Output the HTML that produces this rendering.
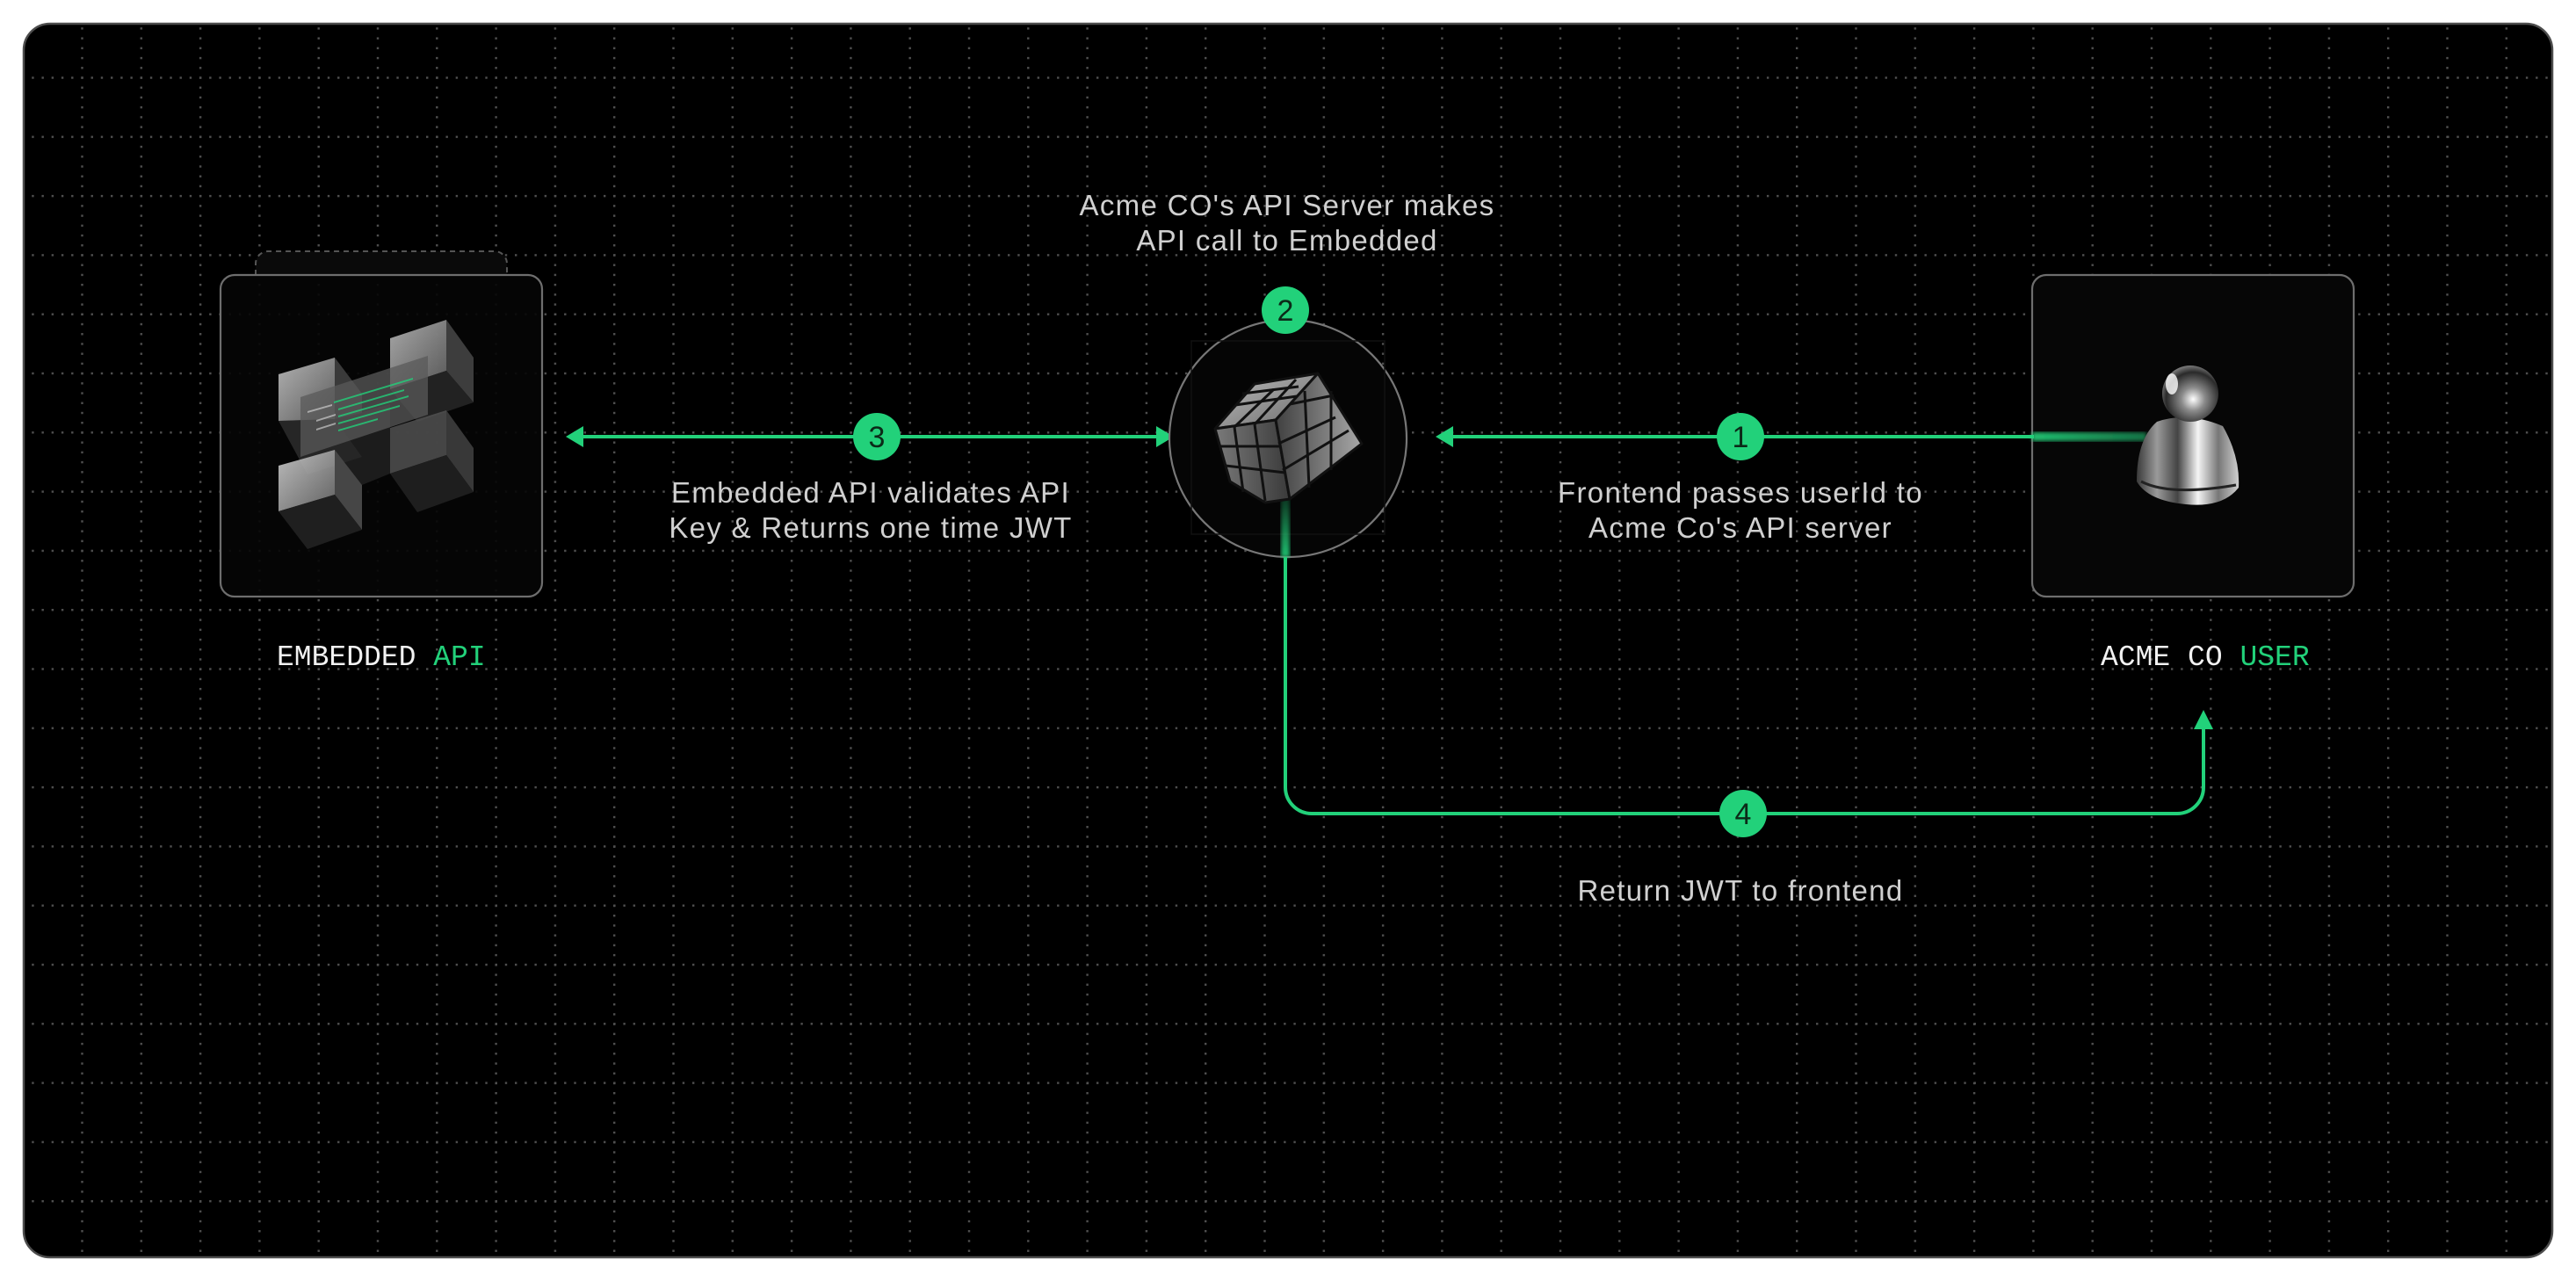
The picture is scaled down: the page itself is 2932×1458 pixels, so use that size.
<!DOCTYPE html>
<html><head><meta charset="utf-8"><style>
html,body{margin:0;padding:0;background:#fff;}
body{width:2932px;height:1458px;overflow:hidden;}
svg{display:block}
.t{font-family:"Liberation Sans",sans-serif;font-size:33px;letter-spacing:1.3px;fill:#d0d0d0;text-anchor:middle}
.m{font-family:"Liberation Mono",monospace;font-size:33px;fill:#f2f2f2}
.g{fill:#22d17a}
.n{font-family:"Liberation Sans",sans-serif;font-size:34px;fill:#0b2a18;text-anchor:middle}
</style></head><body>
<svg width="2932" height="1458" viewBox="0 0 2932 1458" xmlns="http://www.w3.org/2000/svg">
<defs>
<clipPath id="card"><rect x="27" y="27" width="2878" height="1404" rx="30"/></clipPath>
<pattern id="hl" x="25" y="20" width="11.22" height="67.3" patternUnits="userSpaceOnUse"><rect x="0" y="0" width="2.4" height="2.4" fill="#505050"/></pattern>
<pattern id="vl" x="25" y="20" width="67.3" height="11.22" patternUnits="userSpaceOnUse"><rect x="0" y="0" width="2.4" height="2.4" fill="#505050"/></pattern>
<linearGradient id="gtop" x1="0" y1="0" x2="1" y2="1"><stop offset="0" stop-color="#bdbdbd"/><stop offset="1" stop-color="#6a6a6a"/></linearGradient>
<linearGradient id="gleft" x1="0" y1="0" x2="1" y2="0"><stop offset="0" stop-color="#7a7a7a"/><stop offset="1" stop-color="#3a3a3a"/></linearGradient>
<linearGradient id="gright" x1="0" y1="0" x2="1" y2="0"><stop offset="0" stop-color="#404040"/><stop offset="1" stop-color="#a8a8a8"/></linearGradient>
<linearGradient id="glass" x1="0" y1="0" x2="1" y2="1"><stop offset="0" stop-color="#d0d0d0"/><stop offset="1" stop-color="#6c6c6c"/></linearGradient>
<radialGradient id="head" cx="0.55" cy="0.6" r="0.6"><stop offset="0" stop-color="#ffffff"/><stop offset="0.35" stop-color="#8a8a8a"/><stop offset="0.8" stop-color="#2a2a2a"/><stop offset="1" stop-color="#777"/></radialGradient>
<linearGradient id="body" x1="0" y1="0" x2="1" y2="0"><stop offset="0" stop-color="#3a3a3a"/><stop offset="0.2" stop-color="#9a9a9a"/><stop offset="0.4" stop-color="#444"/><stop offset="0.6" stop-color="#f5f5f5"/><stop offset="0.8" stop-color="#777"/><stop offset="1" stop-color="#cfcfcf"/></linearGradient>
<linearGradient id="vglow" x1="0" y1="0" x2="0" y2="1"><stop offset="0" stop-color="#22d17a" stop-opacity="0.2"/><stop offset="1" stop-color="#22d17a" stop-opacity="0.9"/></linearGradient>
<linearGradient id="hglow" x1="0" y1="0" x2="1" y2="0"><stop offset="0" stop-color="#22d17a" stop-opacity="0.9"/><stop offset="1" stop-color="#1a8f56" stop-opacity="0.8"/></linearGradient>
<filter id="blur"><feGaussianBlur stdDeviation="2"/></filter>
</defs>
<rect x="27" y="27" width="2878" height="1404" rx="30" fill="#000"/>
<g clip-path="url(#card)">
<rect x="27" y="20" width="2878" height="1420" fill="url(#hl)"/>
<rect x="25" y="27" width="2880" height="1404" fill="url(#vl)"/>
</g>
<rect x="27" y="27" width="2878" height="1404" rx="30" fill="none" stroke="#4d4d4d" stroke-width="2.5"/>

<path d="M291 313 V300 a14 14 0 0 1 14 -14 H563 a14 14 0 0 1 14 14 V313" fill="#0a0a0a" stroke="#555" stroke-width="2" stroke-dasharray="6 5"/>
<rect x="251" y="313" width="366" height="366" rx="16" fill="#050505" fill-opacity="0.9" stroke="#6e6e6e" stroke-width="2.2"/>
<g>
<polygon points="381,477 444,460 444,539 412,552 381,512" fill="#1c1c1c"/>
<polygon points="317,479 381,477 412,520 350,540" fill="#262626"/>
<polygon points="317,426 381,407 381,477 317,479" fill="url(#glass)" opacity="0.85"/>
<polygon points="381,407 412,448 412,470 381,477" fill="#3a3a3a"/>
<polygon points="444,385 508,364 508,422 444,443" fill="url(#glass)" opacity="0.8"/>
<polygon points="508,364 539,407 539,458 508,422" fill="#3d3d3d"/>
<polygon points="444,443 508,422 539,458 475,480" fill="#222"/>
<polygon points="444,487 508,467 508,518 444,539" fill="#555" opacity="0.8"/>
<polygon points="508,467 539,510 539,560 508,518" fill="#383838"/>
<polygon points="444,539 508,518 539,560 475,583" fill="#1e1e1e"/>
<polygon points="317,530 381,512 381,563 317,582" fill="url(#glass)" opacity="0.9"/>
<polygon points="381,512 412,552 412,603 381,563" fill="#464646"/>
<polygon points="317,582 381,563 412,603 350,625" fill="#1f1f1f"/>
<polygon points="342,452 487,405 487,472 342,520" fill="#5a5a5a" opacity="0.75"/>
<g fill="#22d17a" opacity="0.8">
<polygon points="380,457 470,430 470,432 380,459"/>
<polygon points="385,465 460,443 460,445 385,467"/>
<polygon points="385,473 465,450 465,452 385,475"/>
<polygon points="385,481 455,461 455,463 385,483"/>
<polygon points="385,489 430,476 430,478 385,491"/>
</g>
<g fill="#ddd" opacity="0.6">
<polygon points="350,468 378,460 378,462 350,470"/>
<polygon points="360,478 382,471 382,473 360,480"/>
<polygon points="360,488 382,481 382,483 360,490"/>
</g>
</g>
<text class="m" x="315" y="757">EMBEDDED <tspan class="g">API</tspan></text>

<rect x="2313" y="313" width="366" height="366" rx="16" fill="#060606" stroke="#6e6e6e" stroke-width="2.2"/>
<text class="m" x="2391" y="757">ACME CO <tspan class="g">USER</tspan></text>

<rect x="2313" y="492" width="130" height="10" fill="url(#hglow)" filter="url(#blur)"/>
<line x1="1650" y1="497" x2="2315" y2="497" stroke="#22d17a" stroke-width="4"/>
<polygon points="1634,497 1654,485 1654,509" fill="#22d17a"/>
<path d="M2455 480 Q2490 468 2530 485 Q2550 520 2548 555 Q2530 578 2488 574 Q2445 570 2432 548 Q2432 500 2455 480 Z" fill="url(#body)"/>
<path d="M2437 548 Q2470 565 2545 552" stroke="#222" stroke-width="3" fill="none"/>
<circle cx="2493" cy="448" r="32" fill="url(#head)"/>
<ellipse cx="2472" cy="437" rx="7" ry="12" fill="#fff" opacity="0.8"/>

<line x1="660" y1="497" x2="1320" y2="497" stroke="#22d17a" stroke-width="4"/>
<polygon points="644,497 664,485 664,509" fill="#22d17a"/>
<polygon points="1336,497 1316,485 1316,509" fill="#22d17a"/>

<circle cx="1466" cy="499" r="135" fill="#050505" stroke="#777" stroke-width="2.2"/>
<rect x="1356" y="388" width="220" height="220" fill="none" stroke="#111" stroke-width="1.5"/>
<rect x="1458" y="562" width="10" height="72" fill="url(#vglow)" filter="url(#blur)"/>
<g stroke="#111" stroke-width="3" stroke-linejoin="round">
<polygon points="1452,478 1383,488 1428,437 1500,425" fill="url(#gtop)"/>
<polygon points="1452,478 1383,488 1400,548 1440,572 1468,568" fill="url(#gleft)"/>
<polygon points="1452,478 1500,425 1550,505 1468,568" fill="url(#gright)"/>
<line x1="1406" y1="461" x2="1476" y2="451"/>
<line x1="1414" y1="448" x2="1478" y2="440"/>
<line x1="1405" y1="486" x2="1450" y2="443"/>
<line x1="1428" y1="483" x2="1475" y2="432"/>
<line x1="1388" y1="508" x2="1457" y2="508"/>
<line x1="1395" y1="530" x2="1463" y2="538"/>
<line x1="1405" y1="486" x2="1415" y2="560"/>
<line x1="1428" y1="483" x2="1440" y2="570"/>
<line x1="1468" y1="460" x2="1518" y2="450"/>
<line x1="1455" y1="505" x2="1520" y2="475"/>
<line x1="1460" y1="535" x2="1535" y2="490"/>
<line x1="1485" y1="445" x2="1490" y2="555"/>
<line x1="1515" y1="445" x2="1515" y2="535"/>
</g>
<circle cx="1463" cy="353" r="27" fill="#22d17a"/>
<text class="n" x="1463" y="365">2</text>

<path d="M1463 634 V896 a30 30 0 0 0 30 30 H2478 a30 30 0 0 0 30 -30 V826" fill="none" stroke="#22d17a" stroke-width="4"/>
<polygon points="2508,808 2497,830 2519,830" fill="#22d17a"/>

<circle cx="998" cy="497" r="27" fill="#22d17a"/><text class="n" x="998" y="509">3</text>
<circle cx="1981" cy="497" r="27" fill="#22d17a"/><text class="n" x="1981" y="509">1</text>
<circle cx="1984" cy="926" r="27" fill="#22d17a"/><text class="n" x="1984" y="938">4</text>

<text class="t" x="1465" y="245">Acme CO's API Server makes</text>
<text class="t" x="1465" y="285">API call to Embedded</text>
<text class="t" x="991" y="572">Embedded API validates API</text>
<text class="t" x="991" y="612">Key &amp; Returns one time JWT</text>
<text class="t" x="1981" y="572">Frontend passes userId to</text>
<text class="t" x="1981" y="612">Acme Co's API server</text>
<text class="t" x="1981" y="1025">Return JWT to frontend</text>
</svg>
</body></html>
